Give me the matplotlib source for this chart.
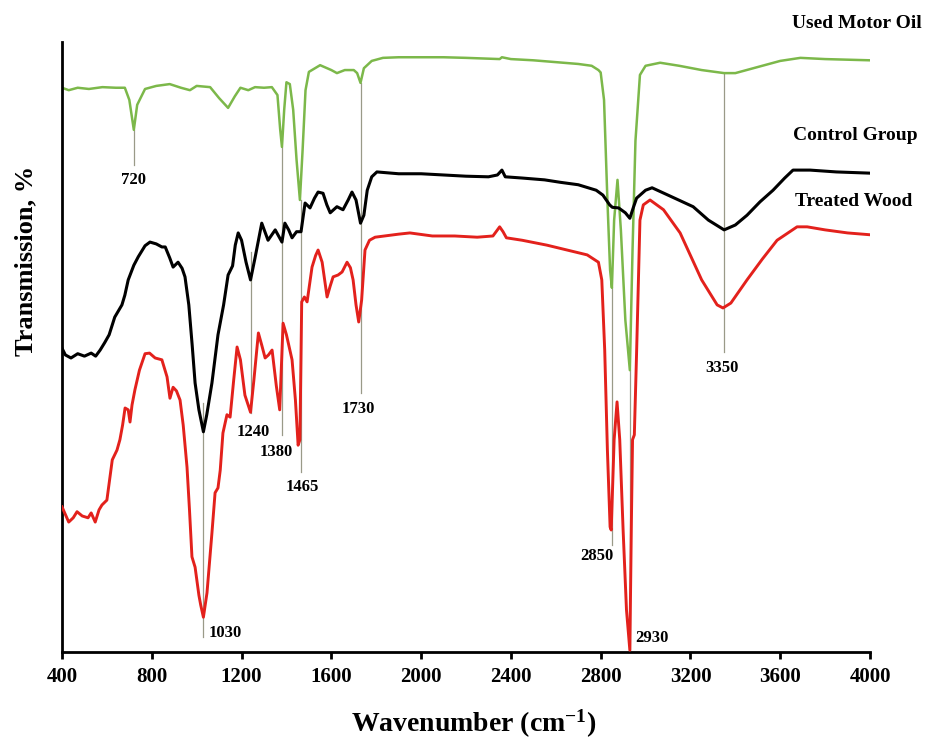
import matplotlib
matplotlib.use("Agg")
import matplotlib.pyplot as plt
import numpy as np

plt.rcParams['font.family'] = ['Liberation Serif', 'DejaVu Serif']
plt.rcParams['font.weight'] = 'bold'
plt.rcParams['mathtext.fontset'] = 'custom'
plt.rcParams['mathtext.rm'] = 'Liberation Serif:bold'
plt.rcParams['mathtext.default'] = 'rm'

# FTIR spectra (wavenumber in cm-1, transmission in arbitrary % scale)
oil_wn = [400, 430, 470, 520, 580, 640, 680, 700, 720, 735, 770, 820, 880, 930, 970,
          1000, 1060, 1100, 1140, 1170, 1195, 1230, 1260, 1300, 1335, 1360, 1372, 1380,
          1390, 1400, 1415, 1430, 1445, 1460, 1472, 1485, 1500, 1550, 1600, 1625, 1660,
          1700, 1715, 1730, 1745, 1780, 1830, 1900, 2000, 2100, 2200, 2350, 2360, 2400,
          2500, 2600, 2700, 2760, 2790, 2800, 2815, 2830, 2842, 2850, 2860, 2875, 2890,
          2910, 2930, 2942, 2955, 2975, 3000, 3065, 3150, 3250, 3350, 3400, 3500, 3600,
          3690, 3800, 4000]
oil_t = [92.5, 92.1, 92.5, 92.3, 92.6, 92.5, 92.5, 90.5, 85.6, 89.7, 92.3, 92.8, 93.1, 92.5, 92.1,
         92.8, 92.6, 90.8, 89.2, 91.1, 92.5, 92.1, 92.6, 92.5, 92.6, 91.3, 85.7, 82.8,
         88.9, 93.4, 93.1, 88.9, 80.7, 74.1, 82.3, 92.1, 95.1, 96.2, 95.4, 94.9, 95.4,
         95.4, 94.9, 93.3, 95.7, 96.9, 97.4, 97.5, 97.5, 97.5, 97.4, 97.2, 97.5, 97.2,
         97.0, 96.7, 96.4, 96.1, 95.4, 95.0, 90.5, 74.1, 62.6, 59.7, 70.8, 77.4, 69.2,
         54.4, 46.2, 65.9, 83.8, 94.6, 96.1, 96.6, 96.1, 95.4, 94.9, 94.9, 95.9, 96.9,
         97.4, 97.2, 97.0]

ctrl_wn = [400, 415, 440, 470, 500, 530, 550, 570, 590, 610, 635, 667, 680, 695, 720, 740,
           770, 792, 820, 845, 860, 880, 895, 917, 935, 948, 965, 980, 993, 1010, 1030,
           1045, 1068, 1095, 1120, 1140, 1160, 1172, 1185, 1200, 1220, 1240, 1260, 1290,
           1318, 1350, 1380, 1393, 1410, 1425, 1445, 1465, 1483, 1505, 1525, 1541, 1563,
           1580, 1595, 1625, 1652, 1675, 1692, 1710, 1730, 1745, 1760, 1780, 1803, 1900,
           2000, 2100, 2200, 2300, 2340, 2360, 2375, 2450, 2550, 2620, 2700, 2780, 2810,
           2840, 2852, 2880, 2910, 2930, 2945, 2960, 3000, 3029, 3100, 3212, 3280, 3350,
           3400, 3452, 3510, 3568, 3620, 3657, 3733, 3850, 4000]
ctrl_t = [49.8, 48.7, 48.2, 48.9, 48.5, 49.0, 48.5, 49.5, 50.7, 52.0, 54.9, 56.9, 58.5, 61.0, 63.4, 64.8,
          66.6, 67.2, 66.9, 66.4, 66.4, 64.6, 63.1, 63.9, 62.9, 61.5, 56.9, 50.3, 44.1, 39.7, 36.1,
          38.9, 44.1, 52.0, 56.9, 61.8, 63.3, 66.7, 68.7, 67.5, 63.9, 61.0, 64.6, 70.3,
          67.5, 69.2, 67.2, 70.3, 69.2, 67.9, 68.9, 68.9, 73.6, 72.8, 74.4, 75.4, 75.2,
          73.3, 72.0, 73.0, 72.5, 74.1, 75.4, 74.1, 70.3, 71.6, 75.7, 77.9, 78.7, 78.4,
          78.4, 78.2, 78.0, 77.9, 78.2, 79.0, 77.9, 77.7, 77.4, 77.0, 76.6, 75.7, 74.9,
          73.3, 72.9, 72.8, 72.0, 71.1, 72.8, 74.4, 75.7, 76.1, 74.9, 73.0, 70.8, 69.2,
          70.0, 71.6, 73.8, 75.7, 77.7, 79.0, 79.0, 78.7, 78.5]

wood_wn = [400, 430, 450, 467, 490, 516, 530, 548, 565, 578, 600, 612, 624, 645, 658, 670,
           681, 695, 703, 712, 725, 745, 770, 790, 815, 845, 868, 881, 895, 910, 926, 940,
           957, 968, 979, 993, 1010, 1018, 1030, 1046, 1068, 1082, 1095, 1105, 1117, 1135,
           1149, 1165, 1180, 1195, 1215, 1240, 1255, 1275, 1290, 1305, 1320, 1336, 1355,
           1370, 1385, 1400, 1425, 1440, 1452, 1460, 1468, 1480, 1492, 1505, 1514, 1530,
           1541, 1559, 1570, 1581, 1595, 1608, 1630, 1648, 1670, 1685, 1697, 1710, 1722,
           1735, 1750, 1770, 1795, 1900, 1950, 2050, 2150, 2250, 2320, 2350, 2365, 2380,
           2450, 2560, 2650, 2740, 2790, 2805, 2818, 2830, 2842, 2847, 2860, 2873, 2885,
           2900, 2915, 2930, 2937, 2942, 2950, 2960, 2975, 2990, 3020, 3080, 3154, 3250,
           3319, 3345, 3380, 3452, 3520, 3586, 3675, 3720, 3800, 3900, 4000]
wood_t = [23.8, 21.3, 22.0, 23.0, 22.3, 22.0, 22.8, 21.3, 23.3, 24.1, 24.9, 28.2, 31.5, 33.1, 34.8, 37.2,
          40.0, 39.7, 37.7, 40.5, 43.0, 46.2, 48.9, 49.0, 48.2, 47.9, 45.1, 41.6, 43.4, 42.8, 41.3, 37.2,
          30.3, 23.3, 15.6, 13.9, 9.3, 7.7, 5.7, 9.7, 19.5, 26.1, 26.9, 29.8, 35.9, 38.9,
          38.5, 44.6, 50.0, 47.9, 42.1, 39.3, 44.6, 52.3, 50.3, 48.2, 48.7, 49.5, 43.6,
          39.7, 53.9, 52.0, 47.9, 41.3, 33.9, 34.8, 57.4, 58.2, 57.4, 60.7, 63.1, 65.0,
          65.9, 63.9, 61.0, 58.2, 60.0, 61.5, 61.8, 62.3, 63.9, 63.0, 61.0, 56.9, 54.1,
          57.7, 65.9, 67.5, 68.0, 68.5, 68.7, 68.2, 68.2, 68.0, 68.2, 69.7, 68.9, 67.9,
          67.5, 66.7, 65.9, 65.1, 63.9, 61.0, 49.5, 33.1, 20.5, 20.0, 34.8, 41.0, 34.8,
          20.0, 6.9, 0.3, 21.6, 34.8, 35.6, 49.0, 70.8, 73.3, 74.1, 72.5, 68.7, 61.0,
          56.9, 56.4, 57.2, 61.0, 64.4, 67.5, 69.7, 69.7, 69.2, 68.7, 68.4]

# peak markers: wavenumber, line top, line bottom, label x, label y, alignment
peaks = ["720", "1030", "1240", "1380", "1465", "1730", "2850", "2930", "3350"]
peak_top = [85.6, 40.8, 65.6, 82.8, 74.1, 93.3, 59.7, 46.2, 94.9]
peak_bot = [79.8, 2.5, 39.2, 35.6, 29.5, 42.5, 17.5, 0.0, 49.2]
label_x = [720, 1052, 1250, 1356, 1469, 1720, 2784, 2953, 3340]
label_y = [77.4, 3.1, 36.1, 32.8, 27.0, 39.8, 15.7, 2.3, 46.6]
label_ha = ["center", "left", "center", "center", "center", "center", "center", "left", "center"]

fig = plt.figure(figsize=(9.27, 7.4), dpi=100)
ax = fig.add_axes([62/927, 88/740, 808/927, 610/740])

for p, t0, t1 in zip(peaks, peak_top, peak_bot):
    ax.plot([float(p), float(p)], [t0, t1], color='#9a9a88', lw=0.9, zorder=1)

ax.plot(oil_wn, oil_t, color='#7cb84a', lw=1.8, zorder=2)
ax.plot(ctrl_wn, ctrl_t, color='black', lw=2.2, zorder=3)
ax.plot(wood_wn, wood_t, color='#e3211c', lw=2.1, zorder=4)

for p, lx, ly, ha in zip(peaks, label_x, label_y, label_ha):
    ax.text(lx, ly, p, ha=ha, va='center', fontsize=12, fontweight='bold')

ax.text(4232, 103.1, "Used Motor Oil", ha='right', va='center', fontsize=14,
        fontweight='bold', clip_on=False)
ax.text(4214, 84.6, "Control Group", ha='right', va='center', fontsize=14,
        fontweight='bold', clip_on=False)
ax.text(4188, 73.8, "Treated Wood", ha='right', va='center', fontsize=14,
        fontweight='bold', clip_on=False)

ax.set_xlim(400, 4000)
ax.set_ylim(0, 100)
ax.set_xticks(np.arange(400, 4001, 400))
ax.set_yticks([])
for s in ['top', 'right']:
    ax.spines[s].set_visible(False)
for s in ['left', 'bottom']:
    ax.spines[s].set_linewidth(2.0)
ax.tick_params(axis='x', direction='out', length=5, width=2.0, pad=6, labelsize=15)
for lab in ax.get_xticklabels():
    lab.set_fontweight('bold')

ax.set_xlabel(r"Wavenumber (cm$^{-1}$)", fontsize=20, fontweight='bold')
ax.xaxis.set_label_coords(0.51, -0.092)
ax.set_ylabel("Transmission, %", fontsize=19, fontweight='bold')
ax.yaxis.set_label_coords(-0.030, 0.641)

fig.savefig("out.png", dpi=100)
